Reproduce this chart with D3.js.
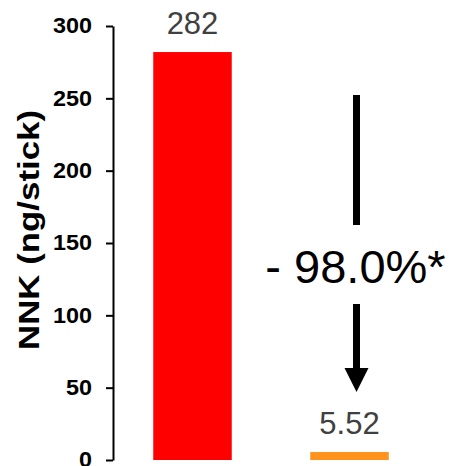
<!DOCTYPE html>
<html><head><meta charset="utf-8">
<script src="https://cdn.jsdelivr.net/npm/d3@7"></script>
<style>body{margin:0;background:#fff}svg{display:block}</style>
</head><body>
<script>
const categories = ["Conventional", "Reduced"];
const values = [282, 5.52];
const valueLabels = ["282", "5.52"];
const barColors = ["#FF0000", "#FF931E"];
const yTicks = [0, 50, 100, 150, 200, 250, 300];
const yTitle = "NNK (ng/stick)";
const changeLabel = "- 98.0%*";

const W = 450, H = 466;
const svg = d3.select("body").append("svg").attr("width", W).attr("height", H);

const y = d3.scaleLinear().domain([0, 300]).range([460, 26]);
const x = d3.scaleBand().domain(categories).range([114, 428]).paddingInner(0.5).paddingOuter(0.25);

// bars
svg.selectAll("rect.bar").data(values).join("rect").attr("class","bar")
  .attr("x", (d,i) => x(categories[i]))
  .attr("width", x.bandwidth())
  .attr("y", d => y(d))
  .attr("height", d => y(0) - y(d))
  .attr("fill", (d,i) => barColors[i]);

// value labels
svg.selectAll("text.val").data(values).join("text").attr("class","val")
  .attr("x", (d,i) => x(categories[i]) + x.bandwidth()/2)
  .attr("y", d => y(d) - 18)
  .attr("text-anchor","middle")
  .attr("font-family","Liberation Sans, Arial, sans-serif")
  .attr("font-size", 31)
  .attr("fill","#404040")
  .text((d,i) => valueLabels[i]);

// y axis
const ax = svg.append("g").attr("transform","translate(113,0)")
  .call(d3.axisLeft(y).tickValues(yTicks).tickSize(7).tickSizeOuter(0).tickPadding(14));
ax.select(".domain").attr("stroke","#000").attr("stroke-width",2);
ax.selectAll(".tick line").attr("stroke","#000").attr("stroke-width",2);
ax.selectAll(".tick text").attr("font-family","Liberation Sans, Arial, sans-serif")
  .attr("font-size",21.5).attr("font-weight","bold").attr("fill","#000")
  .attr("textLength", d => String(d).length * 13)
  .attr("lengthAdjust","spacingAndGlyphs");

// y title
svg.append("text")
  .attr("transform","translate(39,230) rotate(-90)")
  .attr("text-anchor","middle")
  .attr("font-family","Liberation Sans, Arial, sans-serif")
  .attr("font-size",30).attr("font-weight","bold")
  .attr("textLength",240).attr("lengthAdjust","spacingAndGlyphs")
  .text(yTitle);

// change annotation
const ax2 = x(categories[1]) + x.bandwidth()/2 + 7;
svg.append("rect").attr("x", ax2 - 3.5).attr("y", 95).attr("width", 7).attr("height", 130).attr("fill","#000");
svg.append("rect").attr("x", ax2 - 3.5).attr("y", 304).attr("width", 7).attr("height", 66).attr("fill","#000");
svg.append("path").attr("d", `M${ax2-12},368L${ax2+12},368L${ax2},392Z`).attr("fill","#000");
svg.append("text")
  .attr("x", ax2 - 1).attr("y", 283)
  .attr("text-anchor","middle")
  .attr("font-family","Liberation Sans, Arial, sans-serif")
  .attr("font-size",47)
  .attr("fill","#000")
  .text(changeLabel);
</script>
</body></html>
